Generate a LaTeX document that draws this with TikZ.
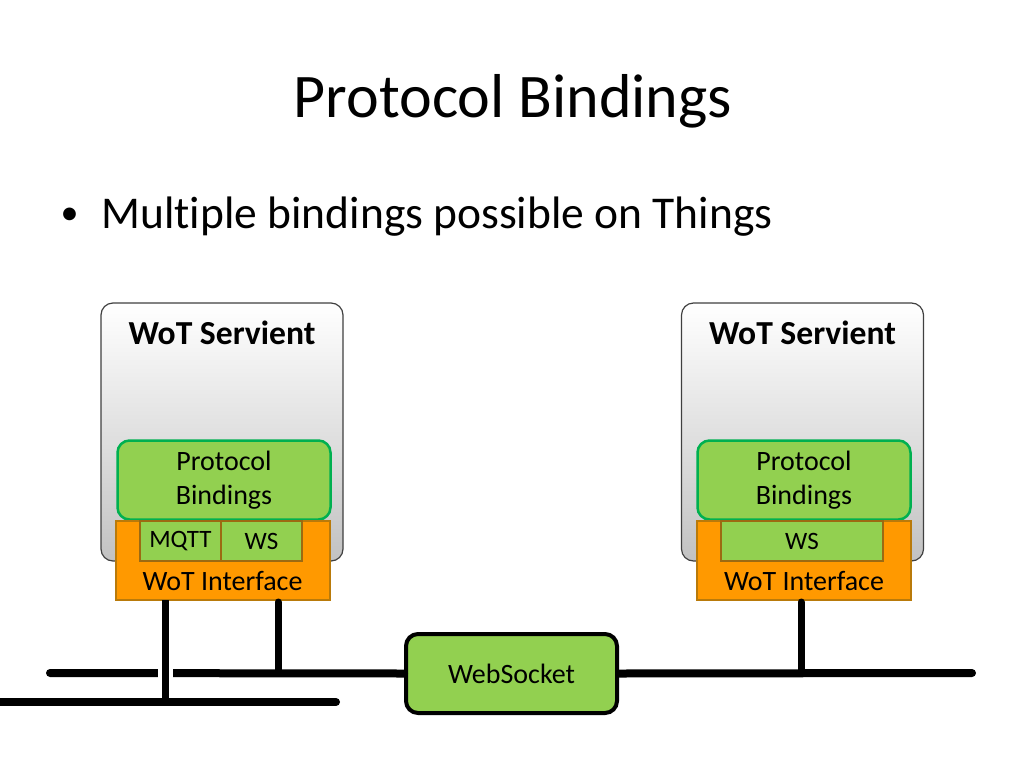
\documentclass[tikz,border=0pt]{standalone}
\usepackage{fontspec}
\setmainfont{Carlito}[Ligatures={NoCommon}]
\usetikzlibrary{positioning}

\definecolor{bindgreen}{HTML}{92D050}
\definecolor{bindedge}{HTML}{00B050}
\definecolor{ifaceorange}{HTML}{FF9900}
\definecolor{ifaceedge}{HTML}{B97A0A}
\definecolor{slotedge}{HTML}{9C6A12}

\tikzset{
  servient/.style = {draw=black!75, line width=1.2pt, rounded corners=12pt,
    top color=white, bottom color=black!24, minimum width=242pt,
    minimum height=258pt, inner sep=0pt},
  binding/.style = {draw=bindedge, fill=bindgreen, line width=2.5pt,
    rounded corners=12pt, minimum width=213pt, minimum height=79pt,
    align=center, font=\fontsize{28}{34}\selectfont},
  iface/.style = {draw=ifaceedge, fill=ifaceorange, line width=2pt,
    minimum width=214pt, minimum height=79pt, inner sep=0pt},
  slot/.style = {draw=slotedge, fill=bindgreen, line width=2pt,
    minimum height=40pt, inner sep=0pt, font=\fontsize{25}{28}\selectfont},
  bus/.style = {line width=8pt, line cap=round},
  drop/.style = {line width=7pt, line cap=round}
}

\begin{document}
\begin{tikzpicture}[x=1pt, y=-1pt]
\useasboundingbox (0,0) rectangle (1024,768);

\node[anchor=base, font=\fontsize{62}{70}\selectfont] (title) at (513,117) {Protocol Bindings};
\node[anchor=base, font=\fontsize{36}{40}\selectfont] (dot) at (69.5,224) {•};
\node[anchor=base west, font=\fontsize{45.5}{50}\selectfont] (bul) at (98,228) {Multiple bindings possible on Things};

% left thing
\node[servient] (sv1) at (222,432) {};
\node[anchor=base, font=\fontsize{33.6}{38}\bfseries] (sv1t) at (222,344) {WoT Servient};
\node[binding] (pb1) at (224,480) {Protocol\\Bindings};
\node[iface] (wi1) at (222.5,560.5) {};
\node[anchor=base, font=\fontsize{28}{32}\selectfont] (wi1t) at (222.5,590) {WoT Interface};
\node[slot, minimum width=81pt] (mqtt) at (180.5,541) {MQTT};
\node[slot, minimum width=81pt] (ws1) at (261.5,541) {WS};

% right thing
\node[servient] (sv2) at (802.5,432) {};
\node[anchor=base, font=\fontsize{33.6}{38}\bfseries] (sv2t) at (802.5,344) {WoT Servient};
\node[binding] (pb2) at (804,480) {Protocol\\Bindings};
\node[iface] (wi2) at (804,560.5) {};
\node[anchor=base, font=\fontsize{28}{32}\selectfont] (wi2t) at (804,590) {WoT Interface};
\node[slot, minimum width=162pt] (ws2) at (802,541) {WS};

% network
\node[draw=black, fill=bindgreen, line width=4pt, rounded corners=12pt,
  minimum width=211pt, minimum height=79pt, font=\fontsize{28}{32}\selectfont] (wsk) at (511.5,673.5) {WebSocket};

\coordinate (b1) at (50,673);
\coordinate (b2) at (972,673);
\coordinate (l1) at (-10,702);
\coordinate (l2) at (336,702);
\coordinate (m1) at (165,600);
\coordinate (m2) at (165,702);
\coordinate (h1) at (165,662);
\coordinate (h2) at (165,688);
\coordinate (w1) at (278,602);
\coordinate (w2) at (278,673);
\coordinate (r1) at (801,602);
\coordinate (r2) at (801,673);

\draw[bus] (b1) -- (wsk.west);
\draw[bus] (wsk.east) -- (b2);
\draw[white, line width=15pt] (h1) -- (h2);
\draw[drop, line cap=butt] (m1) -- (m2);
\draw[drop] (w1) -- (w2);
\draw[drop] (r1) -- (r2);
\draw[bus] (l1) -- (l2);
\end{tikzpicture}
\end{document}
